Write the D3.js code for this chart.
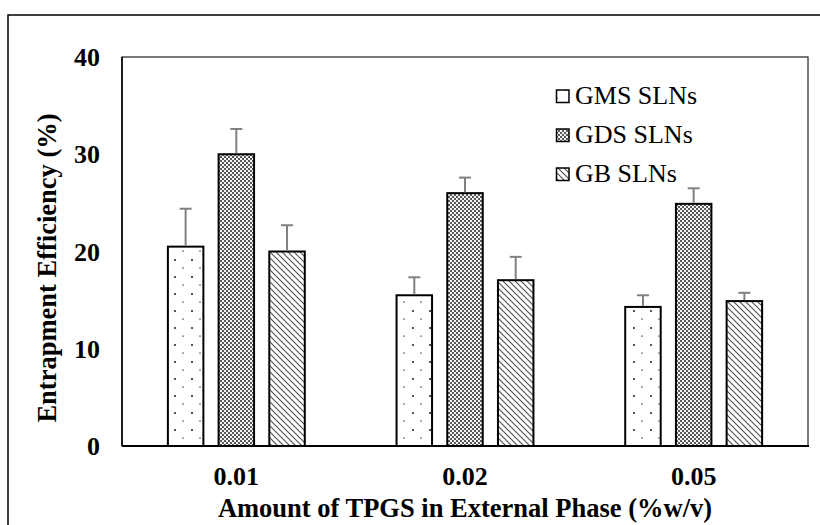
<!DOCTYPE html>
<html>
<head>
<meta charset="utf-8">
<script src="https://cdn.jsdelivr.net/npm/d3@7"></script>
<style>
  html, body { margin: 0; padding: 0; background: #fff; }
  svg { display: block; }
</style>
</head>
<body>
<svg id="chart" width="820" height="525"></svg>
<script>
const categories = ["0.01", "0.02", "0.05"];
const seriesNames = ["GMS SLNs", "GDS SLNs", "GB SLNs"];
const gmsValues = [20.5, 15.5, 14.3];
const gdsValues = [30.0, 26.0, 24.9];
const gbValues  = [20.0, 17.05, 14.9];
const gmsErrors = [3.9, 1.85, 1.2];
const gdsErrors = [2.6, 1.6, 1.6];
const gbErrors  = [2.7, 2.4, 0.85];
const yTicks = [0, 10, 20, 30, 40];

const values = [gmsValues, gdsValues, gbValues];
const errors = [gmsErrors, gdsErrors, gbErrors];
const patternIds = ["pat-dots", "pat-check", "pat-diag"];
const FONT = "'Liberation Serif', 'Times New Roman', serif";

const svg = d3.select("#chart");
const defs = svg.append("defs");

// dots pattern (GMS)
const pd = defs.append("pattern").attr("id", "pat-dots").attr("patternUnits", "userSpaceOnUse")
  .attr("width", 17).attr("height", 17);
pd.append("rect").attr("width", 17).attr("height", 17).attr("fill", "#fff");
pd.append("rect").attr("x", 4).attr("y", 4).attr("width", 2).attr("height", 2).attr("fill", "#555");
pd.append("rect").attr("x", 12).attr("y", 12.5).attr("width", 2).attr("height", 1.2).attr("fill", "#777");

// checker pattern (GDS)
const pc = defs.append("pattern").attr("id", "pat-check").attr("patternUnits", "userSpaceOnUse")
  .attr("width", 4).attr("height", 4);
pc.append("rect").attr("width", 4).attr("height", 4).attr("fill", "#f4f4f4");
pc.append("rect").attr("width", 2).attr("height", 2).attr("fill", "#5a5a5a");
pc.append("rect").attr("x", 2).attr("y", 2).attr("width", 2).attr("height", 2).attr("fill", "#5a5a5a");

// diagonal pattern (GB) - top-left to bottom-right
const pg = defs.append("pattern").attr("id", "pat-diag").attr("patternUnits", "userSpaceOnUse")
  .attr("width", 6).attr("height", 6);
pg.append("rect").attr("width", 6).attr("height", 6).attr("fill", "#fff");
pg.append("path").attr("d", "M-1,-1 L7,7 M-1,5 L1,7 M5,-1 L7,1")
  .attr("stroke", "#555").attr("stroke-width", 1.2);

// outer border
svg.append("rect").attr("x", 8).attr("y", 15).attr("width", 830).attr("height", 530)
  .attr("fill", "none").attr("stroke", "#000").attr("stroke-width", 1.5);

const plotLeft = 122, plotRight = 808, plotTop = 57, plotBottom = 446;

const x0 = d3.scaleBand().domain(categories).range([plotLeft, plotRight]).paddingInner(0).paddingOuter(0);
const x1 = d3.scaleBand().domain(seriesNames).range([0, x0.bandwidth()]).paddingInner(0.3).paddingOuter(0.905);
const y = d3.scaleLinear().domain([0, 40]).range([plotBottom, plotTop]);

// plot frame
svg.append("rect").attr("x", plotLeft).attr("y", plotTop)
  .attr("width", plotRight - plotLeft).attr("height", plotBottom - plotTop)
  .attr("fill", "none").attr("stroke", "#222").attr("stroke-width", 1.2);

// bars
seriesNames.forEach((s, si) => {
  const g = svg.append("g");
  g.selectAll("rect").data(categories).join("rect")
    .attr("x", c => x0(c) + x1(s))
    .attr("y", (c, i) => y(values[si][i]))
    .attr("width", x1.bandwidth())
    .attr("height", (c, i) => y(0) - y(values[si][i]))
    .attr("fill", `url(#${patternIds[si]})`)
    .attr("stroke", "#000").attr("stroke-width", 2);
  const eg = svg.append("g").attr("stroke", "#808080").attr("stroke-width", 2);
  categories.forEach((c, i) => {
    const cx = x0(c) + x1(s) + x1.bandwidth() / 2;
    const top = y(values[si][i] + errors[si][i]);
    eg.append("line").attr("x1", cx).attr("x2", cx).attr("y1", y(values[si][i]) - 1).attr("y2", top);
    eg.append("line").attr("x1", cx - 6).attr("x2", cx + 6).attr("y1", top).attr("y2", top);
  });
});

// axes
const yAxis = d3.axisLeft(y).tickValues(yTicks).tickSize(0).tickPadding(0).tickFormat(d3.format("d"));
const yg = svg.append("g").attr("transform", `translate(100,0)`).call(yAxis);
yg.select(".domain").remove();
yg.selectAll("text").style("font-size", "26px").style("font-weight", "bold")
  .style("font-family", FONT).attr("fill", "#000").attr("x", 0).attr("dy", "0.33em");

svg.append("line").attr("x1", plotLeft).attr("x2", plotLeft).attr("y1", plotTop).attr("y2", plotBottom)
  .attr("stroke", "#000").attr("stroke-width", 1.5);
svg.append("line").attr("x1", plotLeft).attr("x2", plotRight + 1).attr("y1", plotBottom).attr("y2", plotBottom)
  .attr("stroke", "#000").attr("stroke-width", 2.2);

const xAxis = d3.axisBottom(x0).tickSize(0).tickPadding(0);
const xg = svg.append("g").attr("transform", `translate(0,${plotBottom})`).call(xAxis);
xg.select(".domain").remove();
xg.selectAll("text").style("font-size", "26px").style("font-weight", "bold")
  .style("font-family", FONT).attr("fill", "#000").attr("y", 39).attr("dy", 0);

// axis titles
svg.append("text").attr("x", 465).attr("y", 517).attr("text-anchor", "middle")
  .style("font-family", FONT).style("font-size", "26.5px").style("font-weight", "bold")
  .text("Amount of TPGS in External Phase (%w/v)");
svg.append("text").attr("transform", "translate(56,268) rotate(-90)").attr("text-anchor", "middle")
  .style("font-family", FONT).style("font-size", "26.5px").style("font-weight", "bold")
  .text("Entrapment Efficiency (%)");

// legend
const legendY = [104, 143, 182];
seriesNames.forEach((s, si) => {
  svg.append("rect").attr("x", 556.5).attr("y", legendY[si] - 14).attr("width", 12.5).attr("height", 12.5)
    .attr("fill", `url(#${patternIds[si]})`).attr("stroke", "#000").attr("stroke-width", 1.5);
  svg.append("text").attr("x", 575).attr("y", legendY[si])
    .style("font-family", FONT).style("font-size", "26px").text(s);
});
</script>
</body>
</html>
